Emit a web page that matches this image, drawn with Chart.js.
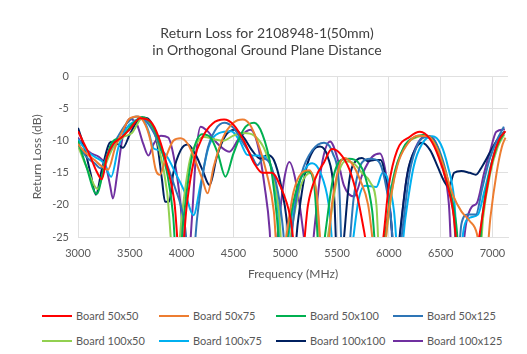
<!DOCTYPE html>
<html>
<head>
<meta charset="utf-8">
<script src="https://cdn.jsdelivr.net/npm/chart.js@4"></script>
<style>
  body { margin: 0; background: #fff; font-family: Lato, sans-serif; }
  #wrap { position: relative; width: 527px; height: 354px; }
  #legend {
    position: absolute; left: 42px; top: 303px;
    display: grid; grid-template-columns: repeat(4, 117px); grid-auto-rows: 25px;
    font-size: 11px; color: #595959;
  }
  .item { display: flex; align-items: center; white-space: nowrap; }
  .swatch { display: inline-block; width: 30px; height: 2px; margin-right: 4px; }
</style>
</head>
<body>
<div id="wrap">
  <canvas id="chart" width="527" height="292"></canvas>
  <div id="legend"></div>
</div>
<script>
// Series names and line colours (Excel palette)
const seriesNames = ['Board 50x50', 'Board 50x75', 'Board 50x100', 'Board 50x125',
  'Board 100x50', 'Board 100x75', 'Board 100x100', 'Board 100x125'];
const seriesColors = ['#FF0000', '#ED7D31', '#00B050', '#2E75B6',
  '#92D050', '#00B0F0', '#002060', '#7030A0'];

// Frequency (MHz) / return loss (dB), one pair per board
const freq50x50 = [3000, 3060, 3120, 3180, 3230, 3280, 3340, 3420, 3500, 3600, 3700, 3780, 3860, 3930, 3990, 4050, 4120, 4200, 4300, 4410, 4500, 4600, 4700, 4780, 4870, 4950, 5050, 5135, 5220, 5300, 5370, 5450, 5530, 5620, 5700, 5760, 5850, 5940, 6000, 6080, 6200, 6300, 6400, 6480, 6560, 6620, 6680, 6760, 6850, 6930, 7000, 7060, 7125];
const loss50x50 = [-8.5, -10.5, -12.5, -14.8, -16, -12.5, -10.5, -9.5, -8.2, -6.5, -7, -9.5, -14, -19.5, -30, -20, -13, -9.5, -7.3, -6.7, -7.5, -10, -13.5, -15, -15, -17, -22, -32, -20, -15.5, -13.5, -11.3, -12, -14.5, -19, -24, -32, -26, -17, -11.5, -9.4, -8.6, -9.8, -12.5, -16.6, -21, -30, -32, -27, -19, -13, -10, -8.5];

const freq50x75 = [3000, 3080, 3160, 3230, 3290, 3360, 3430, 3500, 3580, 3650, 3700, 3750, 3790, 3850, 3920, 3990, 4060, 4130, 4200, 4250, 4310, 4400, 4500, 4590, 4660, 4740, 4820, 4890, 4942, 5000, 5080, 5160, 5230, 5300, 5380, 5450, 5520, 5570, 5640, 5720, 5800, 5880, 5930, 5990, 6080, 6180, 6280, 6380, 6460, 6540, 6620, 6700, 6780, 6850, 6920, 6980, 7040, 7090, 7125];
const loss50x75 = [-10.5, -12, -13, -14, -14.5, -11, -8.5, -6.5, -6.2, -7.5, -10, -14.5, -15.3, -12.5, -10, -9.6, -10.5, -13, -16, -18.2, -14, -9.5, -7.2, -6.7, -7.5, -10.5, -15, -21, -32, -26, -18, -15, -14.6, -18, -32, -20, -14, -12.7, -13.5, -16, -20, -30, -32, -22, -14, -10.5, -9.2, -9.3, -11, -14.5, -18.5, -21, -22.5, -24.5, -32, -22, -15, -11, -9.5];

const freq50x100 = [3000, 3080, 3180, 3260, 3330, 3420, 3520, 3620, 3700, 3780, 3860, 3920, 3960, 4020, 4100, 4200, 4280, 4350, 4423, 4500, 4600, 4700, 4780, 4860, 4920, 4970, 5030, 5120, 5220, 5280, 5340, 5390, 5460, 5540, 5620, 5700, 5770, 5840, 5900, 5960, 6040, 6144, 6240, 6330, 6420, 6500, 6580, 6650, 6700, 6860, 6900, 6970, 7040, 7110];
const loss50x100 = [-10, -14, -18.3, -13.5, -10.2, -9.5, -7.5, -6.3, -7.2, -10, -15, -22, -32, -22, -12.5, -9, -9.5, -12, -15.6, -12, -8.2, -7.2, -9, -14, -22, -32, -24, -17, -14.8, -17, -30, -24, -16, -13, -12.8, -13.3, -15.5, -21, -32, -25, -16, -11, -9.5, -9.1, -9.8, -12.5, -17, -23, -32, -30, -22, -15, -11, -8.8];

const freq50x125 = [3000, 3080, 3160, 3220, 3290, 3380, 3460, 3560, 3650, 3740, 3830, 3930, 4030, 4090, 4150, 4240, 4330, 4413, 4500, 4600, 4680, 4730, 4790, 4850, 4930, 4980, 5020, 5080, 5160, 5260, 5375, 5460, 5520, 5560, 5600, 5660, 5740, 5820, 5900, 5960, 6020, 6070, 6130, 6200, 6280, 6360, 6440, 6520, 6580, 6630, 6660, 6700, 6760, 6840, 6900, 6970, 7040, 7110];
const loss50x125 = [-10.5, -12.5, -13.5, -14.3, -12, -9.5, -7.5, -6.2, -6.8, -9, -12.5, -17, -23, -32, -22, -12, -8.2, -7.2, -8, -10.5, -12.5, -13.8, -12.8, -13.5, -18, -24, -32, -22, -15, -11.5, -10.3, -12, -17, -32, -30, -19, -13.4, -12.8, -13.2, -16, -22, -32, -24, -15, -10.5, -9.4, -10, -13, -17, -22, -30, -23, -21.5, -21.5, -17.5, -13, -10, -7.8];

const freq100x50 = [3000, 3080, 3190, 3260, 3340, 3430, 3520, 3620, 3700, 3780, 3860, 3940, 4000, 4080, 4160, 4220, 4320, 4400, 4500, 4600, 4700, 4790, 4880, 4940, 4990, 5060, 5150, 5250, 5300, 5360, 5420, 5500, 5580, 5660, 5740, 5820, 5880, 5920, 5980, 6060, 6160, 6260, 6340, 6420, 6500, 6580, 6640, 6690, 6870, 6910, 6980, 7050, 7115];
const loss100x50 = [-10.8, -14, -17.5, -14, -11, -9.5, -8.8, -6.5, -7.5, -11, -18, -32, -22, -13, -10, -9.4, -9.8, -10, -9.2, -8.8, -9.2, -11, -15, -21, -32, -24, -17, -15, -18, -30, -24, -16, -13.2, -13.5, -15, -16.5, -20, -32, -24, -15, -10.8, -9.5, -9.2, -10, -13, -17.5, -23, -32, -30, -22, -15, -11, -9];

const freq100x75 = [3000, 3080, 3160, 3250, 3320, 3390, 3470, 3560, 3620, 3680, 3730, 3800, 3860, 3940, 4030, 4115, 4180, 4260, 4360, 4480, 4560, 4635, 4720, 4830, 4900, 4940, 4970, 5030, 5110, 5200, 5260, 5340, 5420, 5480, 5600, 5650, 5710, 5770, 5880, 5940, 5990, 6050, 6100, 6160, 6240, 6320, 6420, 6500, 6570, 6630, 6680, 6720, 6780, 6860, 6920, 6990, 7060, 7120];
const loss100x75 = [-9.8, -11.5, -12.5, -13.5, -15.6, -11, -8, -6.8, -6.5, -8.5, -11.2, -11.5, -12.5, -15, -18, -21.6, -17, -11, -8.8, -8.5, -10, -12.2, -12.3, -12.7, -17, -23, -32, -25, -18, -14.2, -13.5, -15, -20, -30, -32, -26, -19, -17, -17.2, -15, -16, -21, -30, -22, -14, -10.5, -9.3, -10.5, -14, -19, -30, -24, -22, -21.5, -18, -13.5, -10, -8.6];

const freq100x100 = [3000, 3060, 3120, 3173, 3230, 3317, 3380, 3433, 3500, 3570, 3644, 3700, 3760, 3810, 3840, 3880, 3920, 3990, 4058, 4130, 4200, 4270, 4340, 4420, 4510, 4600, 4680, 4760, 4830, 4890, 4960, 5020, 5067, 5120, 5200, 5270, 5336, 5410, 5470, 5510, 5550, 5620, 5690, 5740, 5800, 5860, 5920, 5980, 6030, 6060, 6110, 6180, 6250, 6320, 6400, 6470, 6540, 6580, 6630, 6700, 6780, 6840, 6900, 6970, 7040, 7115];
const loss100x100 = [-8, -11, -15, -18.4, -14.5, -10.2, -10.5, -11.1, -9, -7, -6.4, -7, -10, -16, -19.5, -19.5, -15, -11.5, -10.6, -12, -14.5, -16.9, -12.5, -9.3, -8.3, -9.5, -11.5, -12.8, -12.2, -13, -17, -23, -32, -23, -14.5, -11.5, -10.9, -12.5, -18, -32, -28, -16, -13, -12.7, -13.2, -13, -13, -17, -24, -32, -24, -15, -11.5, -10.3, -11.5, -14, -16.5, -17.2, -15, -14.7, -15, -15.3, -14, -12, -10, -8.6];

const freq100x125 = [3000, 3060, 3130, 3200, 3270, 3310, 3337, 3380, 3430, 3500, 3570, 3630, 3680, 3730, 3800, 3870, 3930, 3990, 4050, 4100, 4140, 4183, 4250, 4350, 4460, 4560, 4663, 4740, 4800, 4850, 4875, 4930, 4990, 5040, 5110, 5180, 5230, 5280, 5350, 5433, 5500, 5567, 5663, 5750, 5840, 5913, 5970, 6020, 6058, 6100, 6170, 6260, 6360, 6450, 6520, 6580, 6620, 6690, 6747, 6800, 6850, 6920, 6980, 7037, 7120];
const loss100x125 = [-9.5, -11, -12, -12.5, -14, -17, -19, -15, -9.5, -6.6, -7.5, -10.5, -12.3, -10.5, -9.2, -9.5, -13, -20, -32, -22, -12, -7.8, -8.5, -10.5, -11.7, -9.5, -8.3, -11, -17, -24, -32, -24, -16, -13.3, -17, -25, -32, -24, -14, -10.1, -12.5, -17, -18.7, -15, -12.5, -12, -15, -22, -32, -26, -16, -11, -9.2, -10.2, -14, -20, -32, -30, -22.8, -20.3, -19.7, -15, -11.5, -8.6, -8.2];

// Axis ranges and tick spacing
const xTicks = [3000, 3500, 4000, 4500, 5000, 5500, 6000, 6500, 7000];
const yTicks = [0, -5, -10, -15, -20, -25];

const freqs = [freq50x50, freq50x75, freq50x100, freq50x125, freq100x50, freq100x75, freq100x100, freq100x125];
const losses = [loss50x50, loss50x75, loss50x100, loss50x125, loss100x50, loss100x75, loss100x100, loss100x125];

const textColor = '#595959';
const gridColor = '#E0E0E0';

new Chart(document.getElementById('chart'), {
  type: 'line',
  data: {
    datasets: seriesNames.map((name, i) => ({
      label: name,
      data: freqs[i].map((f, j) => ({ x: f, y: losses[i][j] })),
      borderColor: seriesColors[i],
      backgroundColor: seriesColors[i],
      borderWidth: 2,
      pointRadius: 0,
      cubicInterpolationMode: 'monotone',
      fill: false,
    })),
  },
  options: {
    responsive: false,
    animation: false,
    layout: { padding: { left: 26, right: 19, top: 0, bottom: 5 } },
    plugins: {
      legend: { display: false },
      tooltip: { enabled: false },
      title: {
        display: true,
        text: ['Return Loss for 2108948-1(50mm)', 'in Orthogonal Ground Plane Distance'],
        color: '#404040',
        font: { family: 'Lato', size: 14, weight: 'normal' },
        padding: { top: 25, bottom: 18 },
      },
    },
    scales: {
      x: {
        type: 'linear',
        min: 3000,
        max: 7150,
        afterFit: scale => { scale.height = 50; },
        afterBuildTicks: scale => { scale.ticks = xTicks.map(v => ({ value: v })); },
        ticks: {
          color: textColor,
          font: { family: 'Lato', size: 11 },
          padding: 10,
          maxRotation: 0,
          callback: value => String(value),
        },
        grid: { color: gridColor, drawTicks: false },
        border: { color: gridColor },
        title: {
          display: true,
          text: 'Frequency (MHz)',
          color: textColor,
          font: { family: 'Lato', size: 12 },
          padding: { top: 0, bottom: 6 },
        },
      },
      y: {
        min: -25,
        max: 0,
        afterFit: scale => { scale.width = 52; },
        afterBuildTicks: scale => { scale.ticks = yTicks.map(v => ({ value: v })); },
        ticks: {
          color: textColor,
          font: { family: 'Lato', size: 11 },
          padding: 9,
          callback: value => String(value),
        },
        grid: { color: gridColor, drawTicks: false },
        border: { color: gridColor },
        title: {
          display: true,
          text: 'Return Loss (dB)',
          color: textColor,
          font: { family: 'Lato', size: 12 },
          padding: { top: 4, bottom: 0 },
        },
      },
    },
  },
});

const legend = document.getElementById('legend');
legend.innerHTML = seriesNames.map((name, i) =>
  `<div class="item"><span class="swatch" style="background:${seriesColors[i]}"></span>${name}</div>`
).join('');
</script>
</body>
</html>
